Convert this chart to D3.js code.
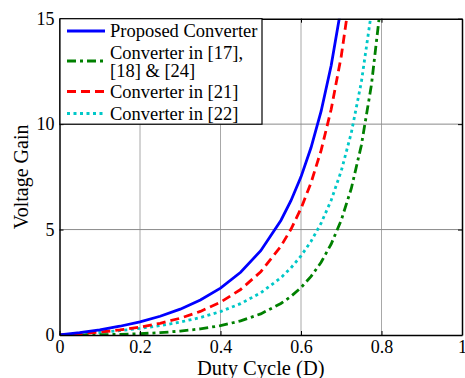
<!DOCTYPE html>
<html>
<head>
<meta charset="utf-8">
<script src="https://cdn.jsdelivr.net/npm/d3@7"></script>
<style>
  body { margin: 0; background: #fff; }
  text { font-family: "Liberation Serif", "Times New Roman", serif; fill: #000; }
</style>
</head>
<body>
<div id="chart"></div>
<script>
// chart size
var width = 465
var height = 378
var margin = {left: 59.5, right: 3, top: 18.7, bottom: 43}

// Data (duty cycle D vs voltage gain)
var duty = [0, 0.05, 0.1, 0.15, 0.2, 0.25, 0.3, 0.35, 0.4, 0.45, 0.5, 0.55, 0.575, 0.6, 0.625, 0.65, 0.675, 0.7, 0.725, 0.75, 0.775, 0.8]
var proposed = [0, 0.111, 0.247, 0.415, 0.625, 0.889, 1.224, 1.657, 2.222, 2.975, 4.0, 5.432, 6.367, 7.5, 8.889, 10.612, 12.781, 15.556, null, null, null, null]
var conv17 = [0, 0.003, 0.012, 0.031, 0.063, 0.111, 0.184, 0.290, 0.444, 0.669, 1.0, 1.494, 1.830, 2.25, 2.778, 3.449, 4.314, 5.444, 6.950, 9.0, 11.864, 16.0]
var conv21 = [0, 0.058, 0.136, 0.239, 0.375, 0.556, 0.796, 1.118, 1.556, 2.157, 3.0, 4.210, 5.014, 6.0, 7.222, 8.755, 10.704, 13.222, 16.537, null, null, null]
var conv22 = [0, 0.055, 0.123, 0.208, 0.313, 0.444, 0.612, 0.828, 1.111, 1.488, 2.0, 2.716, 3.183, 3.75, 4.444, 5.306, 6.391, 7.778, 9.587, 12.0, 15.309, null]

var xTicks = [0, 0.2, 0.4, 0.6, 0.8, 1]
var yTicks = [0, 5, 10, 15]
var legendLabels = [["Proposed Converter"], ["Converter in [17],", "[18] & [24]"], ["Converter in [21]"], ["Converter in [22]"]]

window.onload = function () {
  var svg = d3.select("#chart")
    .append("svg")
      .attr("width", width)
      .attr("height", height)

  var x = d3.scaleLinear().domain([0, 1]).range([margin.left, width - margin.right])
  var y = d3.scaleLinear().domain([0, 15]).range([height - margin.bottom, margin.top])

  // clip for curves
  svg.append("clipPath").attr("id", "plot-clip")
    .append("rect")
      .attr("x", x(0)).attr("y", y(15))
      .attr("width", x(1) - x(0)).attr("height", y(0) - y(15))

  // grid
  var grid = svg.append("g")
  grid.selectAll(".vgrid")
    .data(xTicks.slice(1, -1))
    .enter().append("line")
      .attr("x1", function(d){ return x(d) }).attr("x2", function(d){ return x(d) })
      .attr("y1", y(0)).attr("y2", y(15))
      .attr("stroke", "#a8a8a8").attr("stroke-width", 1)
  grid.selectAll(".hgrid")
    .data(yTicks.slice(1, -1))
    .enter().append("line")
      .attr("x1", x(0)).attr("x2", x(1))
      .attr("y1", function(d){ return y(d) }).attr("y2", function(d){ return y(d) })
      .attr("stroke", "#8a8a8a").attr("stroke-width", 1)

  // series
  var series = [
    {values: conv22, color: "#00c8c8", dash: "3,3.5"},
    {values: conv17, color: "#008000", dash: "9,4,3,4"},
    {values: conv21, color: "#ff0000", dash: "9,5"},
    {values: proposed, color: "#0000ff", dash: null}
  ]
  var line = d3.line()
    .defined(function(d){ return d[1] !== null })
    .x(function(d){ return x(d[0]) })
    .y(function(d){ return y(d[1]) })

  svg.append("g")
    .attr("clip-path", "url(#plot-clip)")
    .selectAll("path")
    .data(series)
    .enter().append("path")
      .attr("d", function(s){ return line(duty.map(function(dv, i){ return [dv, s.values[i]] })) })
      .attr("fill", "none")
      .attr("stroke", function(s){ return s.color })
      .attr("stroke-width", 2.8)
      .attr("stroke-dasharray", function(s){ return s.dash })

  // axes box with inward ticks
  var axes = svg.append("g")
  axes.append("g")
    .attr("transform", "translate(0," + y(0) + ")")
    .call(d3.axisBottom(x).tickValues(xTicks).tickSizeInner(-4).tickSizeOuter(0).tickPadding(5).tickFormat(d3.format("")))
  axes.append("g")
    .attr("transform", "translate(0," + y(15) + ")")
    .call(d3.axisTop(x).tickValues(xTicks).tickSizeInner(-4).tickSizeOuter(0).tickFormat(""))
  axes.append("g")
    .attr("transform", "translate(" + x(0) + ",0)")
    .call(d3.axisLeft(y).tickValues(yTicks).tickSizeInner(-4).tickSizeOuter(0).tickPadding(5))
  axes.append("g")
    .attr("transform", "translate(" + x(1) + ",0)")
    .call(d3.axisRight(y).tickValues(yTicks).tickSizeInner(-4).tickSizeOuter(0).tickFormat(""))
  axes.selectAll(".domain").attr("stroke", "#000").attr("stroke-width", 1.5)
  axes.selectAll(".tick line").attr("stroke", "#000")
  axes.selectAll("g").attr("font-family", null)
  axes.selectAll(".tick text")
    .style("font-family", "'Liberation Serif', 'Times New Roman', serif")
    .style("font-size", "18px")
    .attr("fill", "#000")

  // axis titles
  svg.append("text")
    .attr("x", (x(0) + x(1)) / 2)
    .attr("y", 375)
    .attr("text-anchor", "middle")
    .style("font-size", "20.5px")
    .text("Duty Cycle (D)")
  svg.append("text")
    .attr("transform", "translate(28," + y(7.5) + ") rotate(-90)")
    .attr("text-anchor", "middle")
    .style("font-size", "20px")
    .text("Voltage Gain")

  // legend
  var legend = svg.append("g")
  legend.append("rect")
    .attr("x", x(0) + 0.5).attr("y", y(15))
    .attr("width", 202).attr("height", 105.5)
    .attr("fill", "#fff").attr("stroke", "#000").attr("stroke-width", 1.2)

  var legendRows = [
    {s: series[3], lineY: 31, textY: [37]},
    {s: series[1], lineY: 61, textY: [58.5, 77]},
    {s: series[2], lineY: 91.5, textY: [97.5]},
    {s: series[0], lineY: 113.5, textY: [119.5]}
  ]
  legendRows.forEach(function(r, i) {
    legend.append("line")
      .attr("x1", 67).attr("x2", 105)
      .attr("y1", r.lineY).attr("y2", r.lineY)
      .attr("stroke", r.s.color).attr("stroke-width", 2.8)
      .attr("stroke-dasharray", r.s.dash)
    legendLabels[i].forEach(function(t, j) {
      legend.append("text")
        .attr("x", 110).attr("y", r.textY[j])
        .style("font-size", "18.5px")
        .text(t)
    })
  })
}
</script>
</body>
</html>
